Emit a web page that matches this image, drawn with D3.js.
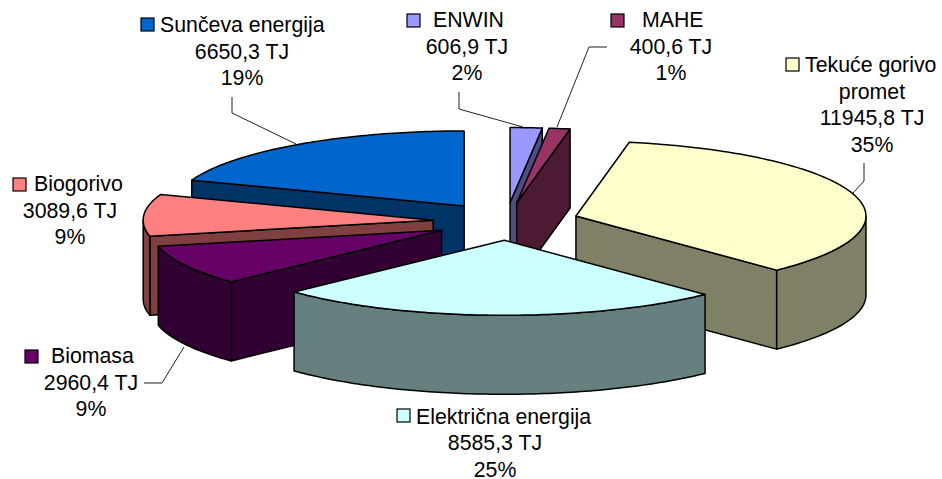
<!DOCTYPE html>
<html>
<head>
<meta charset="utf-8">
<script src="https://cdn.jsdelivr.net/npm/d3@7"></script>
<style>
  body { margin: 0; background: white; }
  text { font-family: "Liberation Sans", Arial, sans-serif; font-size: 21.3px; fill: black; }
</style>
</head>
<body>
<div id="container"></div>
<script>
let w = 942;
let h = 479;

// data, clockwise from 12 o'clock
let categories = ["ENWIN", "MAHE", "Tekuće gorivo promet", "Električna energija", "Biomasa", "Biogorivo", "Sunčeva energija"];
let valuesTJ = [606.9, 400.6, 11945.8, 8585.3, 2960.4, 3089.6, 6650.3];
let percents = ["2%", "1%", "35%", "25%", "9%", "9%", "19%"];
let colors = ["#9999FF", "#993366", "#FFFFCC", "#CCFFFF", "#660066", "#FF8080", "#0066CC"];

// label layout: anchor x of the centred lines, first baseline, legend key x/y
let labelX = [467, 671, 872, 495, 91, 70, 242];
let labelY = [27, 27, 72, 423.5, 363, 191, 32];
let keyX = [407, 611, 786, 397, 25, 13, 141];
let keyY = [14, 14, 58, 409, 350, 178, 18];
let nameX = [433, 642, 805, 416, 51, 34, 160];
let leaders = [
  [[459, 92], [459, 109], [523, 127]],
  [[607, 47], [589, 47], [557, 127]],
  [[864, 163], [864, 181], [853, 193]],
  null,
  [[144, 383], [162, 383], [184, 347]],
  null,
  [[232, 97], [232, 113], [296, 144]]
];

let cx = 506;
let cy = 221.4;
let rx = 290;
let ry = 75;
let explode = 73; // in the same units as rx
let depth = 79;
let lineHeight = 26.7;

let viz = d3.select("#container")
  .append("svg")
    .attr("width", w)
    .attr("height", h)
    .style("display", "block")
    .style("background-color", "white")
;

let pie = d3.pie().sort(null).value(d => d.value);
let tableData = categories.map((c, i) => ({name: c, value: valuesTJ[i], color: colors[i], pct: percents[i], i: i}));
let slices = pie(tableData);

let xUnit = d3.scaleLinear().domain([-1, 1]).range([-rx, rx]);
let yUnit = d3.scaleLinear().domain([-1, 1]).range([-ry, ry]);

// apex of a slice, pushed out along its middle angle
function apex(d){
  let mid = (d.startAngle + d.endAngle) / 2;
  let k = explode / rx;
  return [cx + xUnit(Math.sin(mid) * k), cy + yUnit(-Math.cos(mid) * k)];
}
function rim(d, a){
  let p = apex(d);
  return [p[0] + xUnit(Math.sin(a)), p[1] + yUnit(-Math.cos(a))];
}
function arcPoints(d, a0, a1){
  let n = Math.max(2, Math.ceil((a1 - a0) * 60));
  return d3.range(n + 1).map(j => rim(d, a0 + (a1 - a0) * j / n));
}
function down(p){ return [p[0], p[1] + depth]; }

let line = d3.line();
function closed(points){ return line(points) + "Z"; }

function wallColor(c){ return d3.interpolateRgb(c, "black")(0.5); }

// back slices first
let order = slices.slice().sort((a, b) =>
  Math.cos((b.startAngle + b.endAngle) / 2) - Math.cos((a.startAngle + a.endAngle) / 2));

// leader lines go under the pie
viz.selectAll(".leader").data(leaders.filter(l => l)).enter()
  .append("path")
    .classed("leader", true)
    .attr("d", d => line(d))
    .attr("fill", "none")
    .attr("stroke", "#222")
    .attr("stroke-width", 1)
;

let groups = viz.selectAll(".slice").data(order).enter()
  .append("g")
    .classed("slice", true)
    .attr("stroke", "black")
    .attr("stroke-width", 1.5)
    .attr("stroke-linejoin", "round")
;

groups.each(function(d){
  let g = d3.select(this);
  let dark = wallColor(d.data.color);
  let p = apex(d);
  let a0 = d.startAngle;
  let a1 = d.endAngle;

  function edgeWall(a){
    let q = rim(d, a);
    g.append("path").attr("d", closed([p, q, down(q), down(p)])).attr("fill", dark);
  }
  if (Math.sin(a0) < 0) edgeWall(a0);
  if (Math.sin(a1) > 1e-6) edgeWall(a1);

  // outer wall only on the front half
  let f0 = Math.max(a0, Math.PI / 2);
  let f1 = Math.min(a1, Math.PI * 1.5);
  if (f1 > f0) {
    let pts = arcPoints(d, f0, f1);
    g.append("path")
      .attr("d", closed(pts.concat(pts.map(down).reverse())))
      .attr("fill", dark);
  }

  g.append("path")
    .attr("d", closed([p].concat(arcPoints(d, a0, a1))))
    .attr("fill", d.data.color);
});

function valueLabel(v){
  return v.toFixed(1).replace(".", ",") + " TJ";
}

// data labels
let labels = viz.selectAll(".label").data(tableData).enter()
  .append("g")
    .classed("label", true)
;

labels.append("rect")
    .attr("x", d => keyX[d.i])
    .attr("y", d => keyY[d.i])
    .attr("width", 13)
    .attr("height", 13)
    .attr("fill", d => d.color)
    .attr("stroke", "black")
    .attr("stroke-width", 1.2)
;

labels.each(function(d){
  let g = d3.select(this);
  let i = d.i;
  let first = d.name;
  let rows = [];
  if (d.name == "Tekuće gorivo promet") {
    first = "Tekuće gorivo";
    rows.push("promet");
  }
  rows.push(valueLabel(d.value));
  rows.push(d.pct);
  g.append("text").attr("x", nameX[i]).attr("y", labelY[i]).text(first);
  rows.forEach((r, j) => {
    g.append("text")
      .attr("x", labelX[i])
      .attr("y", labelY[i] + (j + 1) * lineHeight)
      .attr("text-anchor", "middle")
      .text(r);
  });
});
</script>
</body>
</html>
